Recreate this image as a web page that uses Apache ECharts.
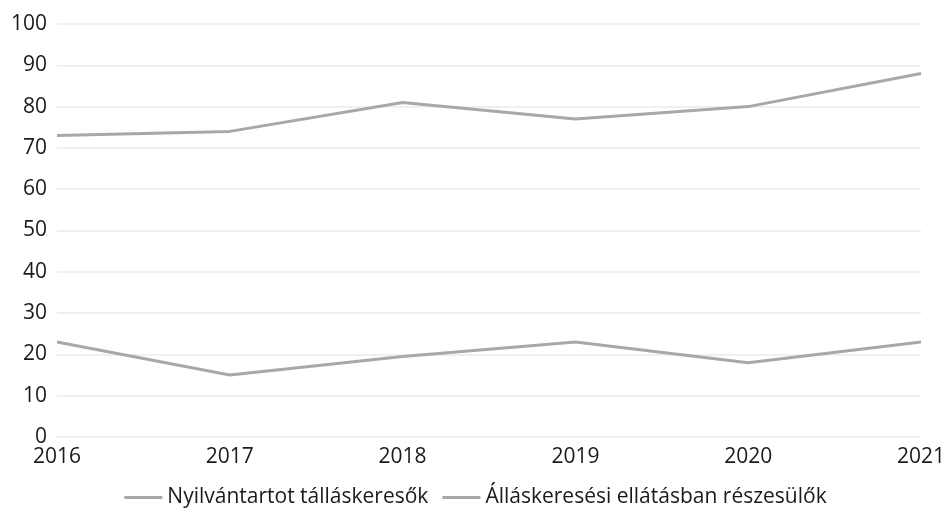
<!DOCTYPE html>
<html>
<head>
  <meta charset="utf-8">
  <title>allaskeresok</title>
  <script src="https://cdn.jsdelivr.net/npm/echarts@6/dist/echarts.min.js"></script>
  <style>
    html, body { margin: 0; padding: 0; background: #fff; }
  </style>
</head>
<body>
  <div id="main" style="width: 951px;height:523px;"></div>
  <script type="text/javascript">
    // évek
    var years = ['2016', '2017', '2018', '2019', '2020', '2021']
    // adatok
    var nyilvantartott = [73, 74, 81, 77, 80, 88]
    var ellatott = [23, 15, 19.5, 23, 18, 23]
    var seriesNames = ['Nyilvántartot tálláskeresők', 'Álláskeresési ellátásban részesülők']

    var myChart = echarts.init(document.getElementById('main'))

    var lineColor = '#a8a8a8'
    var font = 'Open Sans'

    var option = {
      animation: false,
      grid: {
        left: 57,
        right: 30,
        top: 24,
        bottom: 86
      },
      legend: {
        data: seriesNames,
        bottom: 10,
        left: 'center',
        icon: 'rect',
        itemWidth: 38,
        itemHeight: 3,
        itemGap: 14,
        textStyle: {
          fontFamily: font,
          fontSize: 21,
          color: '#1a1a1a'
        }
      },
      xAxis: {
        type: 'category',
        data: years,
        boundaryGap: false,
        axisLine: { show: false },
        axisTick: { show: false },
        axisLabel: {
          fontFamily: font,
          fontSize: 21,
          color: '#1a1a1a',
          margin: 10
        }
      },
      yAxis: {
        type: 'value',
        min: 0,
        max: 100,
        interval: 10,
        axisLine: { show: false },
        axisTick: { show: false },
        splitLine: {
          lineStyle: { color: '#f0f0f0', width: 2 }
        },
        axisLabel: {
          fontFamily: font,
          fontSize: 21,
          color: '#1a1a1a',
          margin: 10
        }
      },
      series: [{
        name: seriesNames[0],
        type: 'line',
        data: nyilvantartott,
        symbol: 'none',
        lineStyle: { color: lineColor, width: 3 },
        itemStyle: { color: lineColor }
      }, {
        name: seriesNames[1],
        type: 'line',
        data: ellatott,
        symbol: 'none',
        lineStyle: { color: lineColor, width: 3 },
        itemStyle: { color: lineColor }
      }]
    }

    myChart.setOption(option)
  </script>
</body>
</html>
